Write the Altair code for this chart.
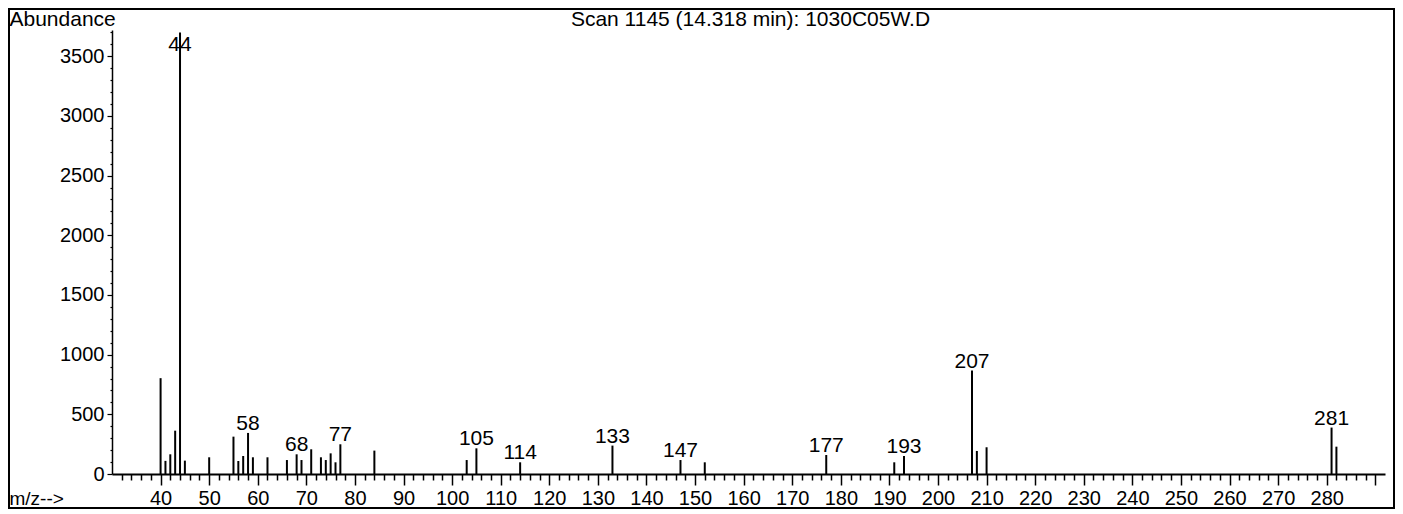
import altair as alt
import pandas as pd

# m/z values and abundances
mz = [40, 41, 42, 43, 44, 45, 50, 55, 56, 57, 58, 59, 62, 66, 68, 69, 71, 73, 74, 75,
      76, 77, 84, 103, 105, 114, 133, 147, 152, 177, 191, 193, 207, 208, 210, 281, 282]
abundance = [803, 110, 165, 363, 3700, 112, 140, 313, 109, 151, 344, 140, 140, 117, 165,
             117, 207, 140, 117, 173, 98, 249, 196, 117, 215, 98, 238, 117, 98, 159, 98,
             151, 867, 193, 224, 389, 229]
labelled_mz = [44, 58, 68, 77, 105, 114, 133, 147, 177, 193, 207, 281]

title_text = "Scan 1145 (14.318 min): 1030C05W.D"
x_title = "m/z-->"
y_title = "Abundance"

FONT = "Liberation Sans"
W, H = 1273, 444
Y_MAX = 3720

df = pd.DataFrame({"mz": mz, "abundance": abundance})
lab = df[df["mz"].isin(labelled_mz)].copy()
lab["label_y"] = lab["abundance"].clip(upper=3520)

xscale = alt.Scale(domain=[30, 292], nice=False, zero=False)
yscale = alt.Scale(domain=[0, Y_MAX], nice=False)

x_axis = alt.Axis(
    values=list(range(32, 292, 2)),
    tickCount=1000,
    format="d",
    labelExpr="datum.value % 10 === 0 && datum.value >= 40 && datum.value <= 280 ? datum.label : ''",
    tickSize={"condition": {"test": "datum.value % 10 === 0", "value": 11}, "value": 6},
    tickWidth=1.5,
    domainWidth=2,
    labelFontSize=20,
    labelBaseline="alphabetic",
    labelPadding=19,
    labelFlush=False,
    labelOverlap=False,
    grid=False,
    title=x_title,
    titleX=-103,
    titleY=30,
    titleAlign="left",
    titleAnchor="start",
    titleBaseline="alphabetic",
    titleAngle=0,
    titleFontSize=19,
    titleFontWeight="normal",
)

y_axis = alt.Axis(
    values=list(range(0, 3701, 100)),
    tickCount=1000,
    labelExpr="datum.value % 500 === 0 ? datum.label : ''",
    tickSize={"condition": {"test": "datum.value % 500 === 0", "value": 5}, "value": 2},
    tickWidth=1.2,
    domainWidth=1.5,
    labelFontSize=20,
    labelPadding=3,
    labelOverlap=False,
    format="d",
    grid=False,
    title=y_title,
    titleX=-103,
    titleY=-5,
    titleAlign="left",
    titleAnchor="start",
    titleBaseline="alphabetic",
    titleAngle=0,
    titleFontSize=21,
    titleFontWeight="normal",
)

bars = alt.Chart(df).mark_rule(color="black", strokeWidth=2).encode(
    x=alt.X("mz:Q", scale=xscale, axis=x_axis),
    y=alt.Y("abundance:Q", scale=yscale, axis=y_axis),
    y2=alt.datum(0),
)

labels = alt.Chart(lab).mark_text(
    baseline="bottom", align="center", fontSize=21, font=FONT, color="black", dy=1
).encode(
    x=alt.X("mz:Q", scale=xscale),
    y=alt.Y("label_y:Q", scale=yscale),
    text=alt.Text("mz:Q", format="d"),
)

one = pd.DataFrame({"t": [title_text]})
title = alt.Chart(one).mark_text(
    fontSize=21, font=FONT, color="black", align="center", baseline="alphabetic"
).encode(
    x=alt.value(W / 2 + 2),
    y=alt.value(-4),
    text="t:N",
)

frame = alt.Chart(pd.DataFrame({"a": [0]})).mark_rect(
    filled=False, stroke="black", strokeWidth=2, fill=None
).encode(
    x=alt.value(-103),
    x2=alt.value(1282),
    y=alt.value(-21),
    y2=alt.value(478),
)

chart = alt.layer(frame, bars, labels, title).properties(
    width=W,
    height=H,
    padding={"left": 104, "top": 22, "right": 10, "bottom": 38},
    autosize=alt.AutoSizeParams(type="none"),
).configure(
    font=FONT,
    background="white",
).configure_view(
    stroke=None
).configure_axis(
    domainColor="black",
    tickColor="black",
    labelColor="black",
    titleColor="black",
    labelFont=FONT,
    titleFont=FONT,
)

chart.save("out.html", embed_options={"renderer": "svg", "actions": False})
